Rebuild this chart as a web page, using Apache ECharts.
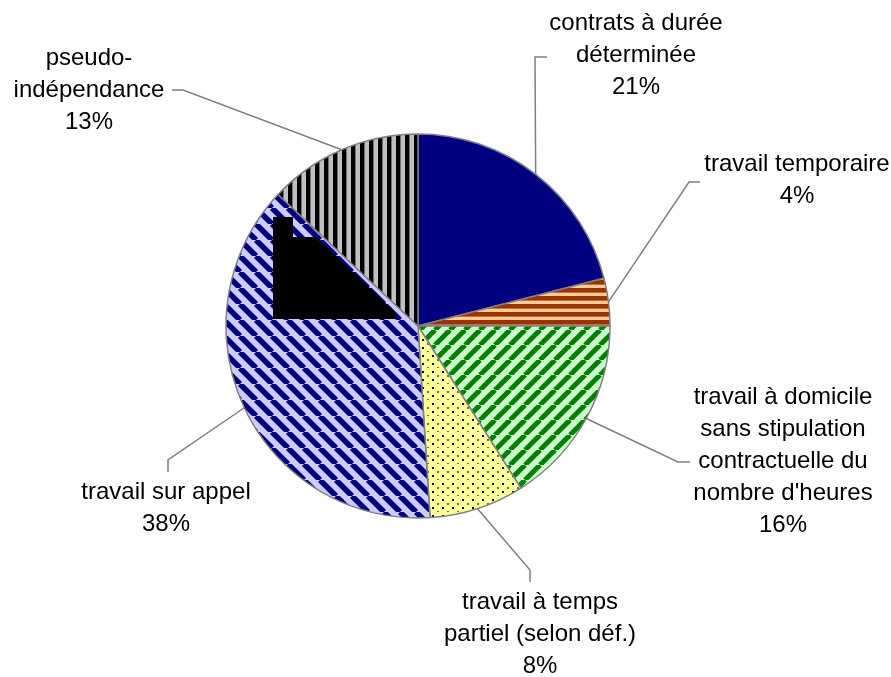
<!DOCTYPE html>
<html>
<head>
<meta charset="utf-8">
<script src="https://cdn.jsdelivr.net/npm/echarts@6/dist/echarts.min.js"></script>
<style>
  html, body { margin: 0; padding: 0; background: #fff; }
  #chart { width: 891px; height: 677px; }
</style>
</head>
<body>
<div id="chart"></div>
<script>
// catégories et parts (en %)
var categories = [
  'contrats à durée\ndéterminée',
  'travail temporaire',
  'travail à domicile\nsans stipulation\ncontractuelle du\nnombre d\'heures',
  'travail à temps\npartiel (selon déf.)',
  'travail sur appel',
  'pseudo-\nindépendance'
];
var shares = [21, 4, 16, 8, 38, 13];

// position des étiquettes : centre du texte, coude et fin du trait de rappel
var labelPos = [
  { x: 636, y: 55,  elbow: [535, 57],  end: [547, 57] },
  { x: 797, y: 180, elbow: [689, 182], end: [700, 182] },
  { x: 783, y: 461, elbow: [678, 462], end: [690, 462] },
  { x: 540, y: 634, elbow: [530, 570], end: [530, 582] },
  { x: 166, y: 508, elbow: [168, 460], end: [168, 472] },
  { x: 89,  y: 90,  elbow: [183, 90],  end: [172, 90] }
];

// motifs de remplissage (façon Excel)
function tile(w, h, bg, draw) {
  var c = document.createElement('canvas');
  c.width = w; c.height = h;
  var ctx = c.getContext('2d');
  ctx.fillStyle = bg;
  ctx.fillRect(0, 0, w, h);
  draw(ctx, w, h);
  return { image: c, repeat: 'repeat' };
}

function diag(bg, fg, s, lw, up) {
  return tile(s, s, bg, function (ctx) {
    ctx.strokeStyle = fg;
    ctx.lineWidth = lw;
    for (var k = -s; k <= s; k += s) {
      ctx.beginPath();
      if (up) { ctx.moveTo(k, s); ctx.lineTo(k + s, 0); }
      else { ctx.moveTo(k, 0); ctx.lineTo(k + s, s); }
      ctx.stroke();
    }
  });
}

var fills = [
  '#000080',
  tile(8, 8, '#FFCC99', function (ctx) {
    ctx.fillStyle = '#993300'; ctx.fillRect(0, 0, 8, 4);
    ctx.fillStyle = '#C86A3A'; ctx.fillRect(0, 4, 8, 1);
  }),
  diag('#CCFFCC', '#008000', 15, 5, true),
  tile(10, 16, '#FFFF99', function (ctx) {
    ctx.fillStyle = '#000'; ctx.fillRect(2, 3, 2, 2); ctx.fillRect(2, 11, 2, 2);
    ctx.fillStyle = '#6E6E48'; ctx.fillRect(7, 7, 2, 2); ctx.fillRect(7, 15, 2, 1);
  }),
  diag('#CCCCFF', '#000080', 16, 5.5, false),
  tile(9, 9, '#C0C0C0', function (ctx) {
    ctx.fillStyle = '#000'; ctx.fillRect(0, 0, 4, 9);
    ctx.fillStyle = '#707070'; ctx.fillRect(4, 0, 1, 9);
  })
];

var chart = echarts.init(document.getElementById('chart'));

var data = categories.map(function (name, i) {
  return { name: name, value: shares[i], itemStyle: { color: fills[i] } };
});

chart.setOption({
  animation: false,
  backgroundColor: '#fff',
  series: [{
    type: 'pie',
    center: [418, 326],
    radius: 192,
    startAngle: 90,
    clockwise: true,
    avoidLabelOverlap: false,
    itemStyle: { borderColor: '#808080', borderWidth: 1.5 },
    emphasis: { disabled: true },
    label: {
      show: true,
      position: 'outside',
      color: '#000',
      fontFamily: 'Liberation Sans, Arial, sans-serif',
      fontSize: 24,
      lineHeight: 32,
      align: 'center',
      formatter: function (p) {
        return p.name + '\n' + Math.round(p.percent) + '%';
      }
    },
    labelLine: {
      show: true,
      length: 20,
      length2: 10,
      lineStyle: { color: '#808080', width: 1.5 }
    },
    labelLayout: function (params) {
      var lp = labelPos[params.dataIndex];
      var anchor = params.labelLinePoints ? params.labelLinePoints[0] : lp.elbow;
      return {
        x: lp.x,
        y: lp.y,
        align: 'center',
        verticalAlign: 'middle',
        labelLinePoints: [anchor, lp.elbow, lp.end]
      };
    },
    data: data
  }],
  // tache noire présente dans l'image d'origine
  graphic: [{
    type: 'polygon',
    z: 100,
    shape: {
      points: [[273, 217], [293, 217], [293, 237], [316, 237], [396, 313], [396, 319], [273, 319]]
    },
    style: { fill: '#000' }
  }]
});
</script>
</body>
</html>
